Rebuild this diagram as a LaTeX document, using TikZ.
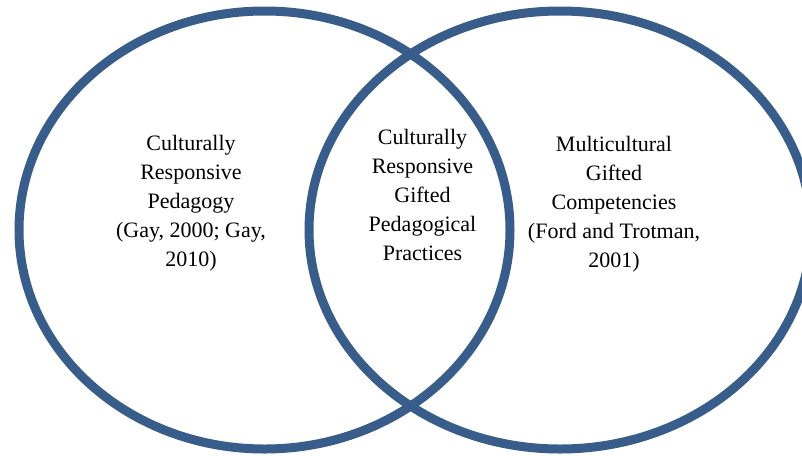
\documentclass[tikz,border=0pt]{standalone}
\usepackage{fontspec}
\setmainfont{Liberation Serif}
\usepackage{tikz}
\definecolor{ringblue}{HTML}{385D8A}
\tikzset{venntext/.style={align=center, inner sep=0pt, font=\fontsize{22}{29}\selectfont}}

\begin{document}
\begin{tikzpicture}[x=1pt,y=-1pt]
	%%%%% START %%%%%
	
	\clip (0, 0) rectangle (802, 455);
	
	\draw[line width=9pt, color=ringblue] (264.5, 230) ellipse [x radius=245.5, y radius=219];
	\draw[line width=9pt, color=ringblue] (560, 230) ellipse [x radius=251, y radius=219];
	
	\node[venntext] (pedagogy) at (191, 203) {Culturally\\Responsive\\Pedagogy\\(Gay, 2000; Gay,\\2010)};
	\node[venntext] (practices) at (422.5, 195) {Culturally\\Responsive\\Gifted\\Pedagogical\\Practices};
	\node[venntext] (competencies) at (614, 204) {Multicultural\\Gifted\\Competencies\\(Ford and Trotman,\\2001)};
	
	%%%%% END %%%%%
\end{tikzpicture}
\end{document}
